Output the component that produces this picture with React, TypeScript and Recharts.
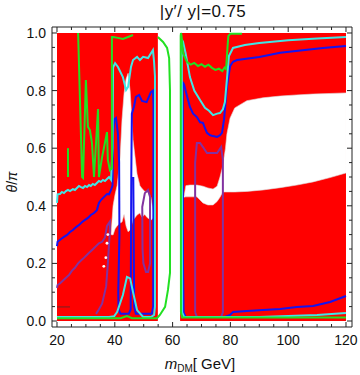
import React from "react";
import {
  ComposedChart,
  Area,
  Line,
  Scatter,
  XAxis,
  YAxis,
} from "recharts";

// filled red regions [x, low, high]
const redLeft = [[20, 0, 1], [54.9, 0, 1]];
const redRight = [[62.6, 0, 1], [120, 0, 1]];

// white holes inside the red regions [x, low, high]
const holeLeft = [
  [38.7, 0.3, 0.3], [39.4, 0.299, 0.4], [40.1, 0.32, 0.44], [40.8, 0.33, 0.47],
  [41.8, 0.34, 0.56], [42.5, 0.344, 0.7], [43.2, 0.37, 0.79], [43.9, 0.33, 0.84],
  [44.6, 0.31, 0.86], [45.3, 0.316, 0.8], [46.3, 0.35, 0.63], [47.7, 0.368, 0.51],
  [48.7, 0.375, 0.47], [49.4, 0.36, 0.46], [50.4, 0.37, 0.45], [51.1, 0.36, 0.45],
  [52.5, 0.35, 0.43], [53.6, 0.36, 0.36],
];
const holeRight = [
  [63.9, 0.43, 0.43], [64.6, 0.431, 0.47], [66.0, 0.431, 0.472], [68.4, 0.431, 0.472],
  [70.5, 0.41, 0.468], [72.2, 0.403, 0.462], [74.0, 0.403, 0.458], [75.4, 0.415, 0.468],
  [76.4, 0.43, 0.5], [77.4, 0.448, 0.54], [78.3, 0.448, 0.6], [78.8, 0.448, 0.65],
  [79.9, 0.448, 0.705], [81.5, 0.448, 0.74], [85.7, 0.45, 0.765], [91.3, 0.455, 0.775],
  [97.2, 0.463, 0.781], [103, 0.472, 0.785], [108.6, 0.483, 0.788], [114.5, 0.498, 0.79],
  [120, 0.514, 0.792],
];
const specks = [[37.3, 0.27], [36.9, 0.22], [36.2, 0.19], [37.6, 0.3]];

// contour lines [x, theta]
const brownLine = [[20, 0.049], [24.5, 0.049]];

const purpleLeft = [
  [20, 0.115], [20.2, 0.125], [21.0, 0.13], [22.0, 0.14], [23.1, 0.15], [24.2, 0.16],
  [25.2, 0.175], [26.2, 0.185], [27.3, 0.2], [28.3, 0.21], [29.4, 0.22], [30.4, 0.23],
  [31.4, 0.24], [32.5, 0.25], [33.5, 0.26], [34.5, 0.27], [35.6, 0.275], [36.6, 0.29],
  [37.3, 0.33], [38.3, 0.345], [38.3, 0.316], [37.6, 0.2], [37.0, 0.12], [35.6, 0.06],
  [34.2, 0.035], [33.5, 0.025],
];
const purpleLoopLeft = [
  [49.6, 0.25], [49.5, 0.396], [50.4, 0.444], [51.5, 0.455], [52.2, 0.431],
  [52.2, 0.2], [51.5, 0.17], [50.8, 0.17], [49.9, 0.2], [49.6, 0.25],
];
const purpleLoopRight = [
  [67.8, 0.03], [67.8, 0.55], [68.4, 0.618], [69.5, 0.618], [70.5, 0.604], [71.9, 0.583],
  [74.0, 0.583], [75.4, 0.583], [76.8, 0.604], [77.4, 0.56], [77.4, 0.03], [76.8, 0.014],
  [68.4, 0.014], [67.8, 0.03],
];

const blueLeft = [
  [20, 0.26], [20.2, 0.275], [21.4, 0.285], [22.4, 0.292], [23.5, 0.299], [24.5, 0.309],
  [25.5, 0.316], [26.6, 0.326], [27.6, 0.333], [28.7, 0.344], [29.7, 0.351], [30.7, 0.358],
  [31.7, 0.368], [32.8, 0.375], [33.8, 0.385], [34.5, 0.41], [35.2, 0.42], [36.3, 0.431],
  [37.3, 0.441], [38.0, 0.44], [38.7, 0.455], [39.2, 0.47], [39.4, 0.65], [39.8, 0.7],
  [40.4, 0.705], [41.1, 0.65], [41.5, 0.55], [41.6, 0.3], [41.2, 0.1], [41.3, 0.04],
  [42.0, 0.025], [44.8, 0.025], [45.5, 0.04], [45.7, 0.5], [45.9, 0.72], [46.6, 0.743],
  [47.3, 0.778], [48.4, 0.785], [49.4, 0.764], [51.0, 0.76], [52.5, 0.795], [53.2, 0.8],
  [53.4, 0.75], [53.3, 0.05], [52.8, 0.025], [47.3, 0.025], [46.7, 0.05], [46.4, 0.5],
];
const blueRight = [
  [120, 0.087], [114.5, 0.066], [108.6, 0.052], [103, 0.049], [97.2, 0.042], [91.3, 0.038],
  [85.7, 0.035], [80.9, 0.031], [79.9, 0.021], [78, 0.014], [64.5, 0.014], [63.8, 0.03],
  [63.6, 0.2], [63.5, 0.83], [64.0, 0.82], [65, 0.78], [66, 0.743], [67.1, 0.72],
  [68.4, 0.708], [69.5, 0.69], [70.5, 0.688], [71.2, 0.67], [71.9, 0.653], [73, 0.645],
  [74.0, 0.642], [75.4, 0.639], [76.4, 0.645], [77.1, 0.653], [77.8, 0.7], [78.8, 0.813],
  [79.9, 0.885], [80.9, 0.9], [82.3, 0.906], [90, 0.917], [97.2, 0.931], [105, 0.94],
  [112, 0.948], [120, 0.955],
];

const cyanLeft = [
  [20, 0.41], [20.2, 0.44], [21.0, 0.441], [21.7, 0.448], [22.4, 0.444], [23.1, 0.451],
  [23.8, 0.455], [24.5, 0.451], [25.5, 0.458], [26.2, 0.455], [26.9, 0.462], [27.6, 0.469],
  [28.3, 0.465], [29.0, 0.462], [29.7, 0.469], [30.4, 0.465], [31.1, 0.472], [31.7, 0.469],
  [32.4, 0.476], [33.1, 0.472], [33.8, 0.479], [34.5, 0.486], [35.2, 0.483], [35.9, 0.49],
  [36.6, 0.486], [37.3, 0.493], [38.0, 0.5], [38.7, 0.49], [39.2, 0.6], [39.4, 0.88],
  [40.1, 0.895], [41.1, 0.882], [42.8, 0.847], [43.9, 0.802], [44.6, 0.813], [45.6, 0.882],
  [46.3, 0.906], [47.7, 0.917], [48.7, 0.906], [49.8, 0.917], [51.5, 0.913], [53.2, 0.941],
  [53.6, 0.899], [53.9, 0.85], [53.9, 0.05], [53.6, 0.021], [52.5, 0.014], [49.8, 0.014],
  [47.7, 0.038], [46.3, 0.101], [45.3, 0.148], [44.2, 0.153], [42.8, 0.09], [40.8, 0.031],
  [39.8, 0.017], [38, 0.014], [20, 0.014],
];
const cyanRight = [
  [120, 0.028], [110, 0.021], [100, 0.017], [90, 0.014], [64, 0.014], [63.3, 0.03],
  [63.2, 0.9], [63.2, 0.976], [63.6, 0.97], [64.5, 0.93], [66.0, 0.847], [67.5, 0.8],
  [69.5, 0.767], [71.2, 0.74], [72.6, 0.73], [74.0, 0.715], [75.4, 0.72], [76.4, 0.722],
  [77.4, 0.735], [78.1, 0.76], [78.8, 0.84], [79.5, 0.92], [80.9, 0.948], [85, 0.958],
  [90, 0.965], [100, 0.975], [110, 0.981], [120, 0.986],
];

const greenStub = [[23.8, 0.6], [23.8, 0.5]];
const greenZigzag = [
  [27.3, 1.0], [28.7, 0.5], [29.0, 0.497], [30.0, 0.837], [30.7, 0.674], [31.4, 0.663],
  [32.1, 0.618], [32.8, 0.5], [34.2, 0.736], [34.5, 0.5], [35.6, 0.569], [36.3, 0.604],
  [37.3, 0.656], [37.6, 0.559], [38.3, 0.524], [39.0, 0.53], [39.0, 0.986], [39.4, 0.986],
  [41.1, 0.983], [42.8, 0.979], [44.6, 0.986], [46.3, 0.993],
];
const greenGap = [
  [20, 0.01], [42, 0.01], [44.2, 0.017], [46, 0.01], [54.6, 0.01], [55.6, 0.021],
  [57.4, 0.049], [58.4, 0.108], [59.1, 0.167], [59.1, 0.8], [58.8, 0.913], [58.1, 0.948],
  [56.7, 0.969], [54.9, 0.986],
];
const greenRight = [
  [120, 0.012], [63.3, 0.012], [62.9, 0.03], [62.8, 0.99], [62.9, 1.0], [63.1, 0.99],
  [63.6, 0.93], [65.0, 0.899], [66.3, 0.89], [67.5, 0.896], [68.8, 0.885], [70.0, 0.892],
  [71.2, 0.883], [72.4, 0.89], [73.6, 0.879], [74.8, 0.872], [76.0, 0.876], [77.2, 0.868],
  [78.0, 0.88], [78.5, 0.875], [79.0, 0.95], [79.3, 0.99], [80.0, 0.997], [84.0, 0.997],
];

const xTicks = [20, 25, 30, 35, 40, 45, 50, 55, 60, 65, 70, 75, 80, 85, 90, 95, 100, 105, 110, 115, 120];
const yTicks = [0, 0.05, 0.1, 0.15, 0.2, 0.25, 0.3, 0.35, 0.4, 0.45, 0.5, 0.55, 0.6, 0.65, 0.7, 0.75, 0.8, 0.85, 0.9, 0.95, 1];

const toPts = (arr: number[][]) => arr.map(([x, y]) => ({ x, y }));
const toRange = (arr: number[][]) => arr.map(([x, lo, hi]) => ({ x, r: [lo, hi] }));

const RED = "#ff0000";
const GREEN = "#22e022";
const CYAN = "#40e6e6";
const BLUE = "#1414f0";
const PURPLE = "#8232a0";
const FRAME = "#222";
const FONT = "'Liberation Sans', Arial, sans-serif";

const isMajorX = (v: number) => v % 20 === 0;
const isMajorY = (v: number) => Math.abs(v * 5 - Math.round(v * 5)) < 1e-6;

const BottomTick = (props: any) => {
  const { x, y, payload } = props;
  const major = isMajorX(payload.value);
  return (
    <g>
      <line x1={x} x2={x} y1={y} y2={y - (major ? 5 : 3)} stroke={FRAME} />
      {major && (
        <text x={x} y={y + 18} textAnchor="middle" fontSize={14} fontFamily={FONT} fill="#111">
          {payload.value}
        </text>
      )}
    </g>
  );
};

const TopTick = (props: any) => {
  const { x, y, payload } = props;
  const major = isMajorX(payload.value);
  return <line x1={x} x2={x} y1={y} y2={y + (major ? 5 : 3)} stroke={FRAME} />;
};

const LeftTick = (props: any) => {
  const { x, y, payload } = props;
  const major = isMajorY(payload.value);
  return (
    <g>
      <line x1={x} x2={x + (major ? 5 : 3)} y1={y} y2={y} stroke={FRAME} />
      {major && (
        <text x={x - 6} y={y + 5} textAnchor="end" fontSize={14} fontFamily={FONT} fill="#111">
          {payload.value.toFixed(1)}
        </text>
      )}
    </g>
  );
};

const RightTick = (props: any) => {
  const { x, y, payload } = props;
  const major = isMajorY(payload.value);
  return <line x1={x} x2={x - (major ? 5 : 3)} y1={y} y2={y} stroke={FRAME} />;
};

const Speck = (props: any) => <circle cx={props.cx} cy={props.cy} r={1.4} fill="#fff" />;

const lineProps = {
  dataKey: "y",
  dot: false,
  type: "linear" as const,
  strokeWidth: 2,
  isAnimationActive: false,
  legendType: "none" as const,
};

const xDomain: [number, number] = [18.27, 122.08];
const yDomain: [number, number] = [-0.0208, 1.0208];

export default function App() {
  return (
    <div style={{ position: "absolute", left: 0, top: 0, width: 360, height: 375, background: "#fff" }}>
      <ComposedChart width={360} height={375} margin={{ top: 26, right: 7, bottom: 47, left: 51 }}>
        <XAxis
          dataKey="x"
          type="number"
          domain={xDomain}
          allowDataOverflow
          ticks={xTicks}
          interval={0}
          height={1}
          tickSize={0}
          tickMargin={0}
          tickLine={false}
          axisLine={{ stroke: FRAME }}
          tick={BottomTick}
        />
        <XAxis
          xAxisId="top"
          orientation="top"
          dataKey="x"
          type="number"
          domain={xDomain}
          allowDataOverflow
          ticks={xTicks}
          interval={0}
          height={1}
          tickSize={0}
          tickMargin={0}
          tickLine={false}
          axisLine={{ stroke: FRAME }}
          tick={TopTick}
        />
        <YAxis
          type="number"
          domain={yDomain}
          allowDataOverflow
          ticks={yTicks}
          interval={0}
          width={1}
          tickSize={0}
          tickMargin={0}
          tickLine={false}
          axisLine={{ stroke: FRAME }}
          tick={LeftTick}
        />
        <YAxis
          yAxisId="right"
          orientation="right"
          type="number"
          domain={yDomain}
          allowDataOverflow
          ticks={yTicks}
          interval={0}
          width={1}
          tickSize={0}
          tickMargin={0}
          tickLine={false}
          axisLine={{ stroke: FRAME }}
          tick={RightTick}
        />

        <Area data={toRange(redLeft)} dataKey="r" type="linear" stroke="none" fill={RED} fillOpacity={1} isAnimationActive={false} />
        <Area data={toRange(redRight)} dataKey="r" type="linear" stroke="none" fill={RED} fillOpacity={1} isAnimationActive={false} />
        <Area data={toRange(holeLeft)} dataKey="r" type="linear" stroke="#ddd" strokeWidth={0.6} fill="#fff" fillOpacity={1} isAnimationActive={false} />
        <Area data={toRange(holeRight)} dataKey="r" type="linear" stroke="#ddd" strokeWidth={0.6} fill="#fff" fillOpacity={1} isAnimationActive={false} />
        <Scatter data={toPts(specks)} dataKey="y" shape={Speck} isAnimationActive={false} />

        <Line data={toPts(brownLine)} {...lineProps} stroke="#a01818" strokeWidth={1.5} />
        <Line data={toPts(purpleLeft)} {...lineProps} stroke={PURPLE} />
        <Line data={toPts(purpleLoopLeft)} {...lineProps} stroke={PURPLE} />
        <Line data={toPts(purpleLoopRight)} {...lineProps} stroke={PURPLE} />
        <Line data={toPts(blueLeft)} {...lineProps} stroke={BLUE} />
        <Line data={toPts(blueRight)} {...lineProps} stroke={BLUE} />
        <Line data={toPts(cyanLeft)} {...lineProps} stroke={CYAN} />
        <Line data={toPts(cyanRight)} {...lineProps} stroke={CYAN} />
        <Line data={toPts(greenStub)} {...lineProps} stroke={GREEN} />
        <Line data={toPts(greenZigzag)} {...lineProps} stroke={GREEN} />
        <Line data={toPts(greenGap)} {...lineProps} stroke={GREEN} />
        <Line data={toPts(greenRight)} {...lineProps} stroke={GREEN} />
      </ComposedChart>

      <svg width={360} height={375} style={{ position: "absolute", left: 0, top: 0, pointerEvents: "none" }}>
        <text x={203} y={17} textAnchor="middle" fontSize={17} fontFamily={FONT} fill="#111" letterSpacing={0.4}>
          |y′/ y|=0.75
        </text>
        <text
          x={0}
          y={0}
          transform="translate(17,182) rotate(-90)"
          textAnchor="middle"
          fontSize={14}
          fontFamily={FONT}
          fill="#111"
        >
          <tspan fontStyle="italic">θ</tspan>/<tspan fontStyle="italic">π</tspan>
        </text>
        <text x={200} y={369} textAnchor="middle" fontSize={15} fontFamily={FONT} fill="#111">
          <tspan fontStyle="italic">m</tspan>
          <tspan fontSize={10} dy={3}>DM</tspan>
          <tspan dy={-3}>[ GeV]</tspan>
        </text>
      </svg>
    </div>
  );
}
